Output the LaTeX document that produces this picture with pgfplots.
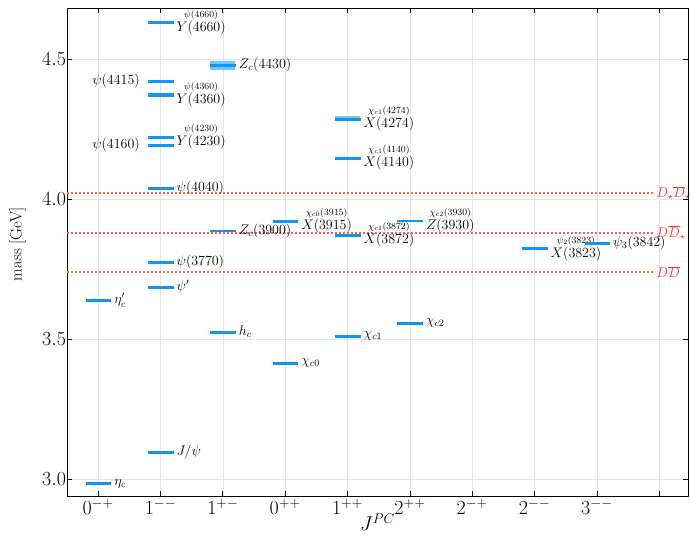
\RequirePackage{fix-cm}
\documentclass[border=0pt]{standalone}
\usepackage{pgfplots}
\usepackage{pgfplotstable}
\pgfplotsset{compat=1.18}

\definecolor{lvl}{RGB}{14,150,245}
\definecolor{bandc}{RGB}{120,195,248}
\definecolor{thr}{RGB}{240,105,70}
\definecolor{thrtxt}{RGB}{250,45,45}

\newcommand\lbl{\fontsize{14}{16}\selectfont}
\newcommand\als{\fontsize{9.5}{10}\selectfont}

% charmonium levels: J^PC slot, mass in GeV
\pgfplotstableread{
x m
0 2.9839
0 3.6375
1 3.0969
1 3.6861
1 3.7737
1 4.0390
1 4.1910
1 4.2220
1 4.3720
1 4.3750
1 4.4210
1 4.6300
1 4.6330
2 3.5254
2 3.8871
2 4.4780
3 3.4147
3 3.9220
4 3.5107
4 3.8717
4 4.1465
4 4.2860
5 3.5562
5 3.9225
7 3.8237
8 3.8427
}\levels

\begin{document}
\begin{tikzpicture}
\begin{axis}[
  scale only axis, width=621pt, height=488pt,
  xmin=-0.5, xmax=9.46, ymin=2.939, ymax=4.682,
  xtick={0,...,9},
  xticklabels={$0^{-+}$,$1^{--}$,$1^{+-}$,$0^{++}$,$1^{++}$,$2^{++}$,$2^{-+}$,$2^{--}$,$3^{--}$,{}},
  ytick={3.0,3.5,4.0,4.5},
  yticklabel style={/pgf/number format/.cd, fixed, fixed zerofill, precision=1, /tikz/.cd, xshift=2.5pt},
  xtick pos=both, ytick pos=both, tick align=inside,
  major tick length=5pt,
  tick style={black, line width=0.8pt},
  axis line style={black, line width=0.9pt},
  grid=major, major grid style={black!10, line width=0.7pt},
  tick label style={font=\fontsize{20}{22}\selectfont},
  xlabel={$J^{PC}$}, ylabel={mass [GeV]},
  xlabel style={font=\fontsize{20}{22}\selectfont, at={(axis description cs:0.5,-0.0533)}, anchor=center},
  ylabel style={font=\fontsize{16.4}{18}\selectfont, at={(axis description cs:-0.0797,0.516)}, anchor=center},
  clip=false,
]
\coordinate (sw) at (rel axis cs:0,0);
\coordinate (ne) at (rel axis cs:1,1);

% mass uncertainty bands
\addplot[fill=bandc, draw=none] coordinates {(1.8,4.460) (2.2,4.460) (2.2,4.494) (1.8,4.494)};
\addplot[fill=bandc, draw=none] coordinates {(3.8,4.277) (4.2,4.277) (4.2,4.295) (3.8,4.295)};

% open-charm thresholds
\addplot[thr, line width=1.5pt, dash pattern=on 1.6pt off 2.4pt] coordinates {(-0.5,3.739) (8.93,3.739)};
\addplot[thr, line width=1.5pt, dash pattern=on 1.6pt off 2.4pt] coordinates {(-0.5,3.879) (8.93,3.879)};
\addplot[thr, line width=1.5pt, dash pattern=on 1.6pt off 2.4pt] coordinates {(-0.5,4.021) (8.93,4.021)};

% levels: flat filled bars, half-width 0.2 in x (12.46pt)
\addplot[only marks, mark=square*, mark size=0.95pt,
  mark options={xscale=13.0, draw=lvl, fill=lvl, line width=0.2pt}]
  table[x=x, y=m] {\levels};

% threshold labels
\node[anchor=west, inner sep=0pt, text=thrtxt, font=\lbl] at (axis cs:8.95,3.739) {$D\overline{D}$};
\node[anchor=west, inner sep=0pt, text=thrtxt, font=\lbl] at (axis cs:8.95,3.879) {$D\overline{D}_\star$};
\node[anchor=west, inner sep=0pt, text=thrtxt, font=\lbl] at (axis cs:8.95,4.021) {$D_\star\overline{D}_\star$};

% single labels
\node[anchor=west, inner sep=0pt, font=\lbl] at (axis cs:0.255,2.9839) {$\eta_c$};
\node[anchor=west, inner sep=0pt, font=\lbl] at (axis cs:0.255,3.6375) {$\eta_c'$};
\node[anchor=west, inner sep=0pt, font=\lbl] at (axis cs:1.255,3.0969) {$J/\psi$};
\node[anchor=west, inner sep=0pt, font=\lbl] at (axis cs:1.255,3.6861) {$\psi'$};
\node[anchor=west, inner sep=0pt, font=\lbl] at (axis cs:1.255,3.7737) {$\psi(3770)$};
\node[anchor=west, inner sep=0pt, font=\lbl] at (axis cs:1.255,4.0390) {$\psi(4040)$};
\node[anchor=east, inner sep=0pt, font=\lbl] at (axis cs:0.67,4.1910) {$\psi(4160)$};
\node[anchor=east, inner sep=0pt, font=\lbl] at (axis cs:0.67,4.4210) {$\psi(4415)$};
\node[anchor=west, inner sep=0pt, font=\lbl] at (axis cs:2.255,3.5254) {$h_c$};
\node[anchor=west, inner sep=0pt, font=\lbl] at (axis cs:2.255,3.8871) {$Z_c(3900)$};
\node[anchor=west, inner sep=0pt, font=\lbl] at (axis cs:2.255,4.4780) {$Z_c(4430)$};
\node[anchor=west, inner sep=0pt, font=\lbl] at (axis cs:3.255,3.4147) {$\chi_{c0}$};
\node[anchor=west, inner sep=0pt, font=\lbl] at (axis cs:4.255,3.5107) {$\chi_{c1}$};
\node[anchor=west, inner sep=0pt, font=\lbl] at (axis cs:5.255,3.5562) {$\chi_{c2}$};
\node[anchor=west, inner sep=0pt, font=\lbl] at (axis cs:8.255,3.8427) {$\psi_3(3842)$};

% labels with an alternative name above
\node[anchor=west, inner sep=0pt, font=\lbl, yshift=-5.5pt] (a1) at (axis cs:1.255,4.6315) {$Y(4660)$};
\node[inner sep=0pt, font=\als] at ([yshift=13pt]a1.center) {$\psi(4660)$};
\node[anchor=west, inner sep=0pt, font=\lbl, yshift=-5.5pt] (a2) at (axis cs:1.255,4.3735) {$Y(4360)$};
\node[inner sep=0pt, font=\als] at ([yshift=13pt]a2.center) {$\psi(4360)$};
\node[anchor=west, inner sep=0pt, font=\lbl, yshift=-5.5pt] (a3) at (axis cs:1.255,4.2220) {$Y(4230)$};
\node[inner sep=0pt, font=\als] at ([yshift=13pt]a3.center) {$\psi(4230)$};
\node[anchor=west, inner sep=0pt, font=\lbl, yshift=-5.5pt] (a4) at (axis cs:3.255,3.9220) {$X(3915)$};
\node[inner sep=0pt, font=\als] at ([yshift=13pt]a4.center) {$\chi_{c0}(3915)$};
\node[anchor=west, inner sep=0pt, font=\lbl, yshift=-5.5pt] (a5) at (axis cs:4.255,3.8717) {$X(3872)$};
\node[inner sep=0pt, font=\als] at ([yshift=13pt]a5.center) {$\chi_{c1}(3872)$};
\node[anchor=west, inner sep=0pt, font=\lbl, yshift=-5.5pt] (a6) at (axis cs:4.255,4.1465) {$X(4140)$};
\node[inner sep=0pt, font=\als] at ([yshift=13pt]a6.center) {$\chi_{c1}(4140)$};
\node[anchor=west, inner sep=0pt, font=\lbl, yshift=-5.5pt] (a7) at (axis cs:4.255,4.2860) {$X(4274)$};
\node[inner sep=0pt, font=\als] at ([yshift=13pt]a7.center) {$\chi_{c1}(4274)$};
\node[anchor=west, inner sep=0pt, font=\lbl, yshift=-5.5pt] (a8) at (axis cs:5.255,3.9225) {$Z(3930)$};
\node[inner sep=0pt, font=\als] at ([yshift=13pt]a8.center) {$\chi_{c2}(3930)$};
\node[anchor=west, inner sep=0pt, font=\lbl, yshift=-5.5pt] (a9) at (axis cs:7.255,3.8237) {$X(3823)$};
\node[inner sep=0pt, font=\als] at ([yshift=13pt]a9.center) {$\psi_2(3823)$};
\end{axis}
\pgfresetboundingbox
\path[use as bounding box] ([xshift=-67pt,yshift=-47pt]sw) rectangle ([xshift=2pt,yshift=8pt]ne);
\end{tikzpicture}
\end{document}
